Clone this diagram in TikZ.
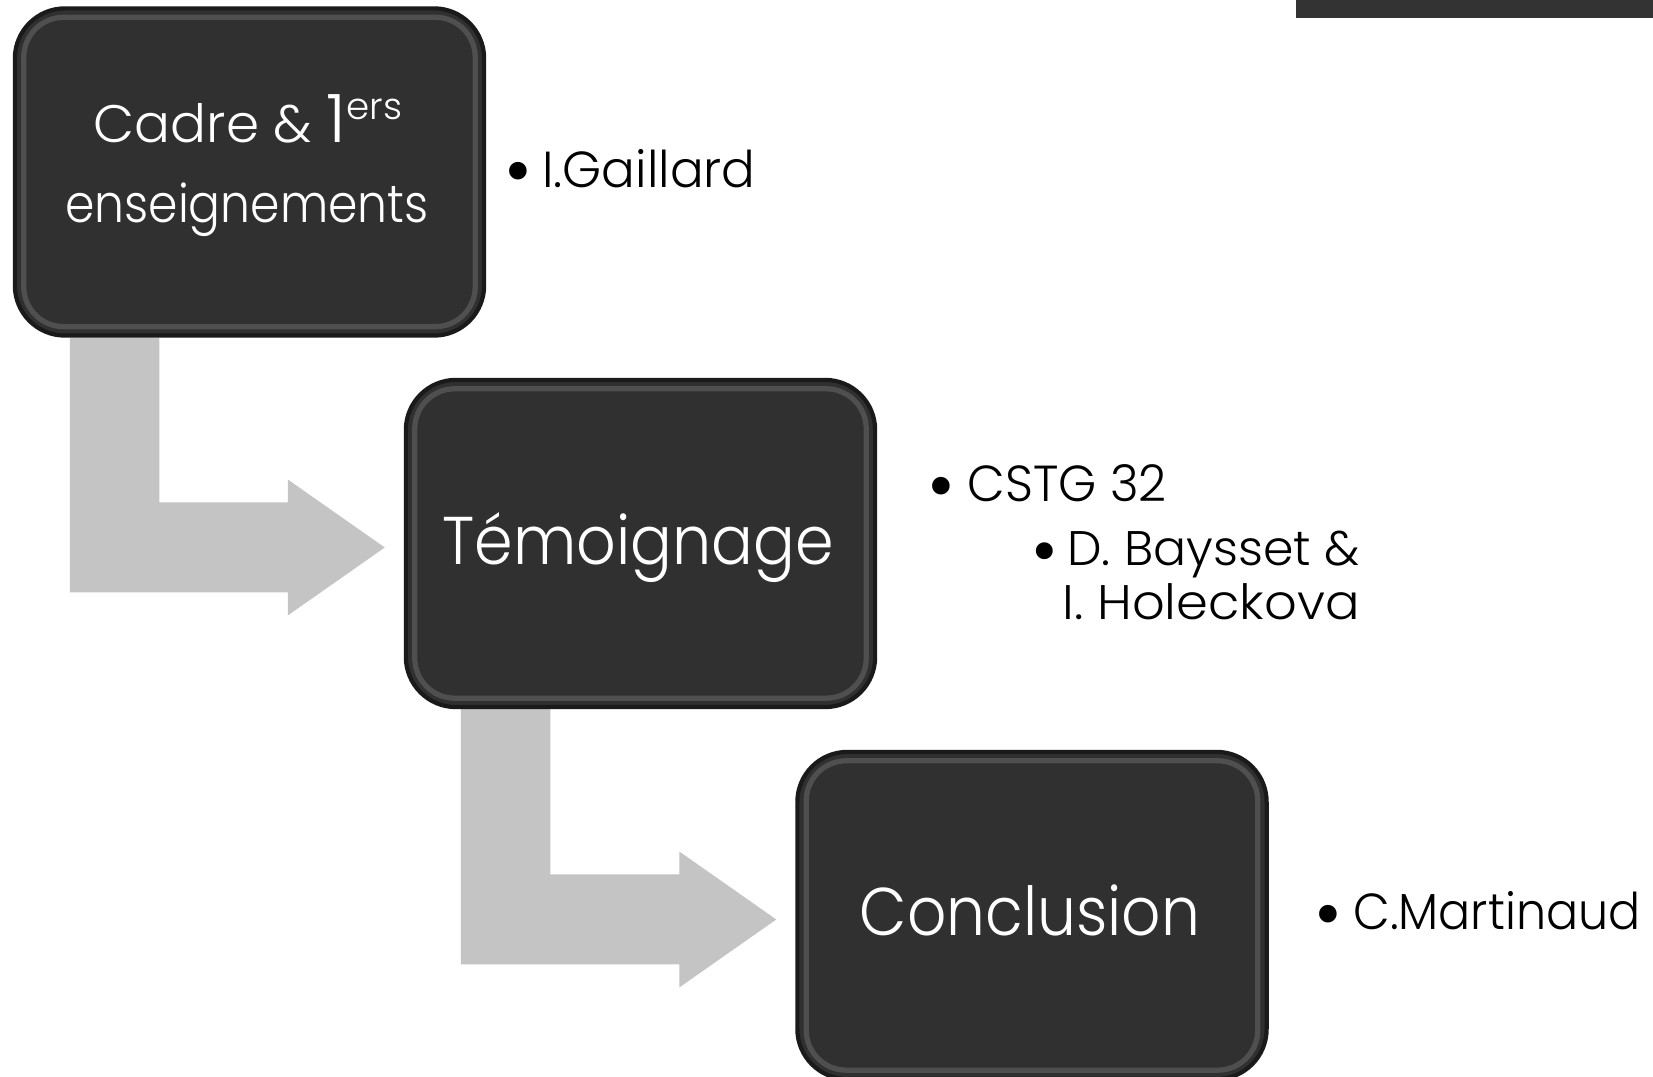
\documentclass[tikz,border=0pt]{standalone}
\usepackage{fontspec}
\setmainfont{Poppins}[UprightFont={* Light}]
\usetikzlibrary{calc}
\definecolor{boxfill}{HTML}{303030}
\definecolor{boxrim}{HTML}{1A1A1A}
\definecolor{bevel}{HTML}{6E6E6E}
\definecolor{arrowgray}{HTML}{C4C4C4}
\definecolor{barcol}{HTML}{333333}
\tikzset{
  stepbox/.style={draw=boxrim, line width=1.2pt, fill=boxfill, rounded corners=0.5cm,
    minimum width=4.69cm, minimum height=3.27cm, inner sep=0pt},
  bevelline/.style={draw=bevel, line width=1.5pt, rounded corners=0.4cm, opacity=0.5},
  bentarrow/.style={fill=arrowgray, draw=none},
  boxlabel/.style={anchor=base, inner sep=0pt, text=white},
  bullettext/.style={anchor=base west, inner sep=0pt, text=black, font=\fontsize{14.4}{17}\selectfont},
  subbullettext/.style={anchor=base west, inner sep=0pt, text=black, font=\fontsize{13.8}{16}\selectfont},
  bulletmark/.style={anchor=base, inner sep=0pt, text=black, font=\fontsize{14.4}{17}\selectfont},
  bigtext/.style={font=\fontsize{19.2}{23}\selectfont},
}
\newcommand\bul{\raisebox{-2.7pt}{\scalebox{1.5}{•}}}
\newcommand\fitw[2]{\resizebox{#1}{\height}{#2}}
% #1 = upper box, #2 = lower box
\newcommand\bentarrowshape[2]{%
  \coordinate (tl) at ($(#1.south west)+(57,0)$);
  \coordinate (tr) at ($(#1.south west)+(146.5,0)$);
  \coordinate (hb) at ($(#2.west)+(-116,4)$);
  \coordinate (tip) at ($(#2.west)+(-19,4)$);
  \coordinate (bt) at ($(hb)+(0,-45)$);
  \coordinate (bb) at ($(hb)+(0,45)$);
  \coordinate (ht) at ($(hb)+(0,-68)$);
  \coordinate (hbt) at ($(hb)+(0,68)$);
  \fill[bentarrow] (tl) -- (tr) -- (tr |- bt) -- (bt) -- (ht) -- (tip) -- (hbt) -- (bb) -- (tl |- bb) -- cycle;
}
\newcommand\bevelof[1]{%
  \draw[bevelline] ($(#1.north west)+(11,11)$) rectangle ($(#1.south east)+(-11,-11)$);
}
\begin{document}
\begin{tikzpicture}[x=0.01cm, y=-0.01cm]
\useasboundingbox (0,0) rectangle (1653,1077);
\fill[white] (0,0) rectangle (1653,1077);
% top right bar
\fill[barcol] (1296,0) rectangle (1653,18);

% placeholders to fix geometry
\path (249.5,172) node[stepbox, draw=none, fill=none] (b1) {};
\path (640.5,543.5) node[stepbox, draw=none, fill=none] (b2) {};
\path (1032,915.5) node[stepbox, draw=none, fill=none] (b3) {};

% arrows
\bentarrowshape{b1}{b2}
\bentarrowshape{b2}{b3}

% boxes
\node[stepbox] (box1) at (b1) {};
\bevelof{box1}
\node[stepbox] (box2) at (b2) {};
\bevelof{box2}
\node[stepbox] (box3) at (b3) {};
\bevelof{box3}

% box labels
\node[boxlabel, font=\fontsize{15}{18}\selectfont] (l1a) at (248,142.3)
  {\fitw{3.08cm}{Cadre \& {\fontsize{19}{22}\selectfont 1}\raisebox{6.5pt}{\fontsize{10.5}{12}\selectfont ers}}};
\node[boxlabel, font=\fontsize{15}{18}\selectfont] (l1b) at (247,223)
  {\fitw{3.63cm}{enseignements}};
\node[boxlabel, bigtext] (l2) at (638,565) {\fitw{3.91cm}{Témoignage}};
\node[boxlabel, bigtext] (l3) at (1030,936) {\fitw{3.40cm}{Conclusion}};

% right-hand texts
\node[bulletmark] (m1) at (518,187.3) {\bul};
\node[bullettext] (t1) at (541.7,187.3) {\fitw{2.13cm}{I.Gaillard}};
\node[bulletmark] (m2) at (941.7,501.7) {\bul};
\node[bullettext] (t2) at (966.7,501.7) {\fitw{1.99cm}{CSTG 32}};
\node[bulletmark, font=\fontsize{13.8}{16}\selectfont] (m3) at (1045,566) {\bul};
\node[subbullettext] (t3) at (1066.7,566) {\fitw{2.92cm}{D. Baysset \&}};
\node[subbullettext] (t4) at (1061.7,620) {\fitw{2.97cm}{I. Holeckova}};
\node[bulletmark] (m5) at (1328,930) {\bul};
\node[bullettext] (t5) at (1352.7,930) {\fitw{2.87cm}{C.Martinaud}};
\end{tikzpicture}
\end{document}
